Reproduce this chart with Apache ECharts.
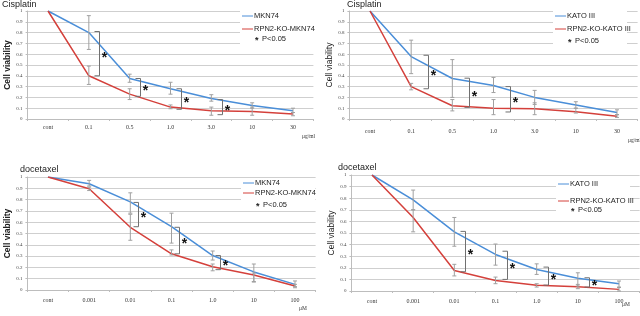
<!DOCTYPE html>
<html><head><meta charset="utf-8">
<script src="https://cdn.jsdelivr.net/npm/echarts@6/dist/echarts.min.js"></script>
<style>html,body{margin:0;padding:0;background:#fff}#c{width:640px;height:316px}</style>
</head><body><div id="c"></div>
<script>
// ---------- DATA ----------
const cisCats = ['cont', '0.1', '0.5', '1.0', '3.0', '10', '30'];
const docCats = ['cont', '0.001', '0.01', '0.1', '1.0', '10', '100'];

// Panel 1: Cisplatin, MKN74
const p1Blue = [1.0, 0.80, 0.375, 0.28, 0.19, 0.125, 0.077];
const p1Red  = [1.0, 0.40, 0.23, 0.11, 0.077, 0.07, 0.047];
const p1BlueErr = [[1, 0.644, 0.957], [2, 0.34, 0.415], [3, 0.23, 0.34], [4, 0.165, 0.225], [5, 0.10, 0.15], [6, 0.06, 0.10]];
const p1RedErr  = [[1, 0.32, 0.49], [2, 0.18, 0.28], [3, 0.095, 0.13], [4, 0.035, 0.11], [5, 0.035, 0.11], [6, 0.03, 0.06]];
const p1Sig = [[1, 0.81, 0.40], [2, 0.375, 0.21], [3, 0.28, 0.09], [4, 0.18, 0.04]];

// Panel 2: Cisplatin, KATO III
const p2Blue = [1.0, 0.578, 0.375, 0.31, 0.20, 0.13, 0.06];
const p2Red  = [1.0, 0.30, 0.123, 0.10, 0.095, 0.068, 0.025];
const p2BlueErr = [[1, 0.42, 0.73], [2, 0.20, 0.55], [3, 0.245, 0.385], [4, 0.135, 0.265], [5, 0.10, 0.16], [6, 0.04, 0.085]];
const p2RedErr  = [[1, 0.27, 0.33], [2, 0.075, 0.18], [3, 0.04, 0.18], [4, 0.04, 0.15], [5, 0.055, 0.10], [6, 0.015, 0.04]];
const p2Sig = [[1, 0.59, 0.28], [2, 0.378, 0.108], [3, 0.30, 0.065]];

// Panel 3: docetaxel, MKN74
const p3Blue = [1.0, 0.94, 0.78, 0.56, 0.305, 0.16, 0.05];
const p3Red  = [1.0, 0.896, 0.555, 0.32, 0.205, 0.133, 0.035];
const p3BlueErr = [[1, 0.92, 0.97], [2, 0.68, 0.86], [3, 0.415, 0.68], [4, 0.265, 0.345], [5, 0.075, 0.23], [6, 0.03, 0.08]];
const p3RedErr  = [[1, 0.88, 0.91], [2, 0.44, 0.67], [3, 0.31, 0.355], [4, 0.17, 0.23], [5, 0.07, 0.15], [6, 0.02, 0.05]];
const p3Sig = [[2, 0.775, 0.56], [3, 0.555, 0.32], [4, 0.305, 0.18]];

// Panel 4: docetaxel, KATO III
const p4Blue = [1.0, 0.786, 0.51, 0.315, 0.186, 0.11, 0.063];
const p4Red  = [1.0, 0.634, 0.177, 0.09, 0.05, 0.037, 0.014];
const p4BlueErr = [[1, 0.70, 0.87], [2, 0.386, 0.634], [3, 0.223, 0.405], [4, 0.143, 0.234], [5, 0.043, 0.157], [6, 0.034, 0.086]];
const p4RedErr  = [[1, 0.51, 0.70], [2, 0.13, 0.23], [3, 0.063, 0.12], [4, 0.034, 0.063], [5, 0.02, 0.057], [6, 0.0, 0.03]];
const p4Sig = [[2, 0.514, 0.166], [3, 0.343, 0.10], [4, 0.206, 0.051], [5, 0.114, 0.034]];

const legendNames = [['MKN74', 'RPN2-KO-MKN74'], ['KATO III', 'RPN2-KO-KATO III'], ['MKN74', 'RPN2-KO-MKN74'], ['KATO III', 'RPN2-KO-KATO III']];
const titles = ['Cisplatin', 'Cisplatin', 'docetaxel', 'docetaxel'];
const units = ['\u03bcg/ml', '\u03bcg/ml', '\u03bcM', '\u03bcM'];
const sigText = 'P<0.05';
const yName = 'Cell viability';

// ---------- LAYOUT / STYLE ----------
const BLUE = '#4a8ed8', RED = '#d4403b';
const grids = [
  {left: 27.6, top: 11, width: 285.8, height: 108},
  {left: 349.4, top: 11, width: 288.2, height: 108},
  {left: 27.4, top: 177, width: 288.2, height: 113},
  {left: 351.4, top: 175, width: 288.2, height: 116}
];
const labelMargins = [5, 9, 7, 7];
const nameGaps = [15, 13, 15, 11];
const sigOffsets = [0.26, 0.40, 0.19, 0.27];
const panels = [
  {cats: cisCats, blue: p1Blue, red: p1Red, be: p1BlueErr, re: p1RedErr, sig: p1Sig},
  {cats: cisCats, blue: p2Blue, red: p2Red, be: p2BlueErr, re: p2RedErr, sig: p2Sig},
  {cats: docCats, blue: p3Blue, red: p3Red, be: p3BlueErr, re: p3RedErr, sig: p3Sig},
  {cats: docCats, blue: p4Blue, red: p4Red, be: p4BlueErr, re: p4RedErr, sig: p4Sig}
];

function errRender(params, api) {
  const x = api.value(0);
  const a = api.coord([x, api.value(1)]);
  const b = api.coord([x, api.value(2)]);
  const w = 2;
  const st = {stroke: '#a0a0a0', lineWidth: 1};
  return {type: 'group', children: [
    {type: 'line', shape: {x1: a[0], y1: a[1], x2: b[0], y2: b[1]}, style: st},
    {type: 'line', shape: {x1: a[0] - w, y1: a[1], x2: a[0] + w, y2: a[1]}, style: st},
    {type: 'line', shape: {x1: b[0] - w, y1: b[1], x2: b[0] + w, y2: b[1]}, style: st}
  ]};
}
function sigRenderFactory(off) {
  return function (params, api) {
    const i = api.value(0);
    const t = api.coord([i, api.value(1)]);
    const b = api.coord([i, api.value(2)]);
    const cw = api.size([1, 0])[0];
    const x = Math.round(t[0] + off * cw) + 0.5;
    const stub = 5;
    return {type: 'group', children: [
      {type: 'polyline', shape: {points: [[x - stub, t[1]], [x, t[1]], [x, b[1]], [x - stub, b[1]]]},
        style: {stroke: '#707070', lineWidth: 1, fill: null}},
      {type: 'text', x: x + 5, y: (t[1] + b[1]) / 2 + 4,
        style: {text: '*', fill: '#111', font: 'bold 14px "Liberation Sans"', align: 'center', verticalAlign: 'middle'}}
    ]};
  };
}

const xAxes = [], yAxes = [], series = [], graphic = [];
panels.forEach((p, k) => {
  xAxes.push({
    type: 'category', gridIndex: k, data: p.cats, boundaryGap: true,
    axisLine: {lineStyle: {color: '#bdbdbd'}},
    axisTick: {show: true, length: 2, lineStyle: {color: '#bdbdbd'}},
    axisLabel: {interval: 0, fontSize: 6, fontFamily: '"Liberation Serif"', color: '#333', margin: labelMargins[k]},
    splitLine: {show: false}
  });
  yAxes.push({
    type: 'value', gridIndex: k, min: 0, max: 1, interval: 0.1,
    axisLine: {show: true, lineStyle: {color: '#bdbdbd'}},
    axisTick: {show: true, length: 2, lineStyle: {color: '#bdbdbd'}},
    axisLabel: {fontSize: 5, fontFamily: '"Liberation Serif"', color: '#444', margin: 5,
      formatter: v => (Math.abs(v) < 1e-9 ? '0' : Math.abs(v - 1) < 1e-9 ? '1' : v.toFixed(1))},
    splitLine: {lineStyle: {color: '#cfcfcf', width: 1}},
    name: yName, nameLocation: 'middle', nameGap: nameGaps[k],
    nameTextStyle: {fontSize: 8.5, fontFamily: '"Liberation Sans"', color: '#222', fontWeight: (k % 2 === 0) ? 'bold' : 'normal'}
  });
  series.push({type: 'line', xAxisIndex: k, yAxisIndex: k, data: p.blue, symbol: 'none', lineStyle: {color: BLUE, width: 1.5}, itemStyle: {color: BLUE}, z: 3, animation: false});
  series.push({type: 'line', xAxisIndex: k, yAxisIndex: k, data: p.red, symbol: 'none', lineStyle: {color: RED, width: 1.5}, itemStyle: {color: RED}, z: 3, animation: false});
  series.push({type: 'custom', xAxisIndex: k, yAxisIndex: k, data: p.be, encode: {x: 0, y: [1, 2]}, renderItem: errRender, z: 4, animation: false});
  series.push({type: 'custom', xAxisIndex: k, yAxisIndex: k, data: p.re, encode: {x: 0, y: [1, 2]}, renderItem: errRender, z: 4, animation: false});
  series.push({type: 'custom', xAxisIndex: k, yAxisIndex: k, data: p.sig, encode: {x: 0, y: [1, 2]}, renderItem: sigRenderFactory(sigOffsets[k]), z: 5, animation: false});
});

// titles, units, legends (graphic text)
const titlePos = [[2, 5], [347, 5], [20, 170], [338, 168]];
const unitPos = [[302, 137], [628, 141], [299, 309], [622, 305]];
const legPos = [
  {x: 242, y1: 16, y2: 29, y3: 39},
  {x: 555, y1: 16, y2: 29, y3: 41},
  {x: 243, y1: 183, y2: 193, y3: 205},
  {x: 558, y1: 184, y2: 201, y3: 210}
];
const LF = '7.5px "Liberation Sans"';
for (let k = 0; k < 4; k++) {
  graphic.push({type: 'text', left: titlePos[k][0], top: titlePos[k][1] - 5, z: 10,
    style: {text: titles[k], font: '9px "Liberation Sans"', fill: '#222'}});
  graphic.push({type: 'text', x: unitPos[k][0], y: unitPos[k][1], z: 10,
    style: {text: units[k], font: '5.5px "Liberation Serif"', fill: '#333', verticalAlign: 'middle'}});
  const L = legPos[k];
  graphic.push({type: 'rect', shape: {x: L.x - 2, y: L.y1 - 5, width: 74, height: L.y3 - L.y1 + 10}, style: {fill: '#fff'}, z: 9});
  graphic.push({type: 'line', shape: {x1: L.x, y1: L.y1, x2: L.x + 11, y2: L.y1}, style: {stroke: BLUE, lineWidth: 1}, z: 10});
  graphic.push({type: 'line', shape: {x1: L.x, y1: L.y2, x2: L.x + 11, y2: L.y2}, style: {stroke: RED, lineWidth: 1}, z: 10});
  graphic.push({type: 'text', x: L.x + 12, y: L.y1, z: 10, style: {text: legendNames[k][0], font: LF, fill: '#222', verticalAlign: 'middle'}});
  graphic.push({type: 'text', x: L.x + 12, y: L.y2, z: 10, style: {text: legendNames[k][1], font: LF, fill: '#222', verticalAlign: 'middle'}});
  graphic.push({type: 'text', x: L.x + 13, y: L.y3 + 2, z: 10, style: {text: '*', font: 'bold 9px "Liberation Sans"', fill: '#222', verticalAlign: 'middle'}});
  graphic.push({type: 'text', x: L.x + 20, y: L.y3, z: 10, style: {text: sigText, font: LF, fill: '#222', verticalAlign: 'middle'}});
}

const chart = echarts.init(document.getElementById('c'), null, {renderer: 'canvas'});
chart.setOption({
  animation: false,
  backgroundColor: '#fff',
  grid: grids.map(g => Object.assign({containLabel: false}, g)),
  xAxis: xAxes, yAxis: yAxes, series: series, graphic: graphic,
  tooltip: {show: false}, legend: {show: false}
});
</script></body></html>
